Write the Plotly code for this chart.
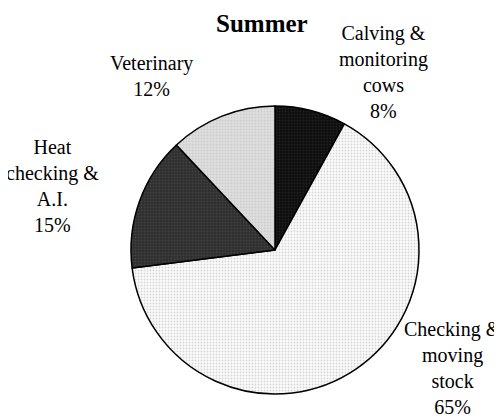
import plotly.graph_objects as go

categories = ["Calving &<br>monitoring<br>cows", "Checking &<br>moving<br>stock",
              "Heat<br>checking &<br>A.I.", "Veterinary"]
values = [8, 65, 15, 12]
title_text = "Summer"

fills = ["#0d0d0d", "#fbfbfb", "#2e2e2e", "#dedede"]
dots = ["#333333", "#b0b0b0", "#555555", "#bcbcbc"]

# page body has an 8px margin; shift the figure frame accordingly
OFF = 8
W, H = 502 - OFF, 418 - OFF
cx, cy, r = 275 - OFF, 250 - OFF, 144

fig = go.Figure(go.Pie(
    labels=categories, values=values, sort=False, direction="clockwise", rotation=0,
    textinfo="none", hoverinfo="label+percent", showlegend=False,
    marker=dict(colors=fills, line=dict(color="black", width=1.5),
                pattern=dict(shape=".", fgcolor=dots, size=3, solidity=0.3, fillmode="overlay")),
    domain=dict(x=[(cx - r) / W, (cx + r) / W], y=[(H - cy - r) / H, (H - cy + r) / H]),
))

label_pos = [(383, 72), (453, 368), (52, 186), (151, 76)]
total = sum(values)
font = dict(family="Liberation Serif, Times New Roman, serif", size=20, color="black")
anns = []
for cat, v, (x, y) in zip(categories, values, label_pos):
    anns.append(dict(x=(x - OFF) / W, y=1 - (y - OFF) / H, xref="paper", yref="paper", showarrow=False,
                     text=f"{cat}<br>{round(100 * v / total)}%", font=font,
                     xanchor="center", yanchor="middle", align="center"))
anns.append(dict(x=(262 - OFF) / W, y=1 - (23 - OFF) / H, xref="paper", yref="paper", showarrow=False,
                 text=f"<b>{title_text}</b>",
                 font=dict(family="Liberation Serif, Times New Roman, serif", size=25, color="black"),
                 xanchor="center", yanchor="middle"))

fig.update_layout(width=W, height=H, margin=dict(l=0, r=0, t=0, b=0),
                  paper_bgcolor="white", plot_bgcolor="white", annotations=anns)
fig.write_html("out.html")
